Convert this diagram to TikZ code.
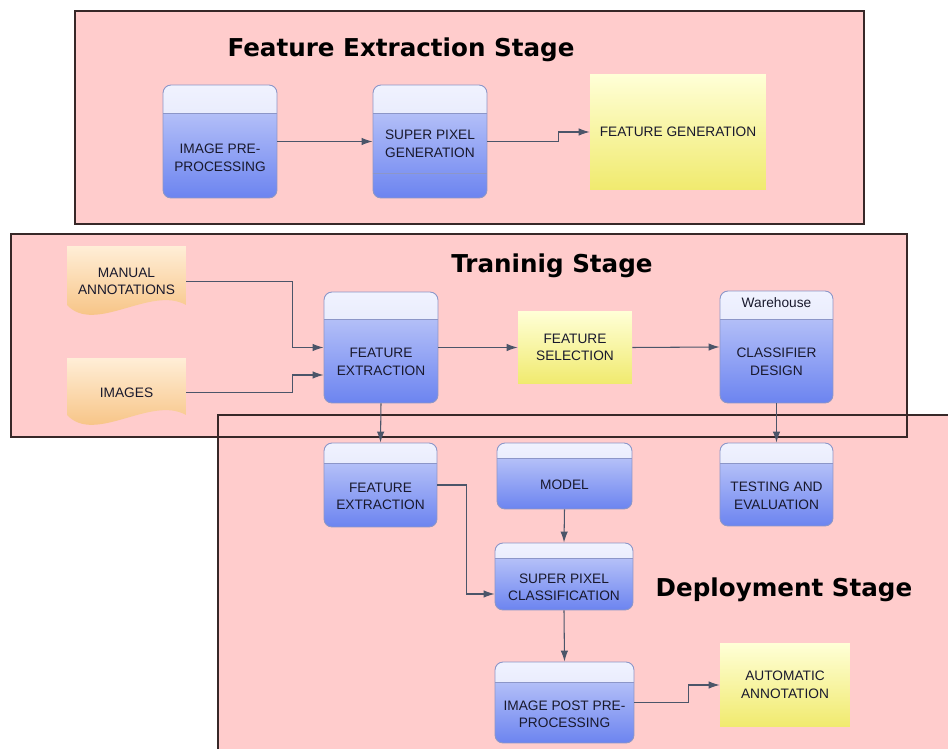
\documentclass[tikz,border=0pt]{standalone}
\usepackage{fontspec}
\setmainfont{Liberation Sans}
\newfontfamily\stagefont{DejaVu Sans}
\usepackage{tikz}
\usetikzlibrary{arrows.meta,calc}

\definecolor{stagepink}{RGB}{255,204,204}
\definecolor{stageline}{RGB}{55,40,40}
\definecolor{headtop}{RGB}{240,242,254}
\definecolor{headbot}{RGB}{214,220,250}
\definecolor{bodytop}{RGB}{202,210,250}
\definecolor{bodybot}{RGB}{108,132,240}
\definecolor{boxline}{RGB}{140,150,200}
\definecolor{yeltop}{RGB}{255,255,215}
\definecolor{yelbot}{RGB}{240,234,110}
\definecolor{doctop}{RGB}{255,238,215}
\definecolor{docbot}{RGB}{245,185,112}
\definecolor{flowcol}{RGB}{75,85,105}
\definecolor{textcol}{RGB}{25,25,45}

\tikzset{
  boxtext/.style={font=\fontsize{7.8}{10}\selectfont, text=textcol, align=center},
  procbox/.style={draw=boxline, line width=0.5pt, rounded corners=0.16cm,
    top color=bodytop, bottom color=bodybot, inner sep=0pt},
  header/.style={path picture={
    \shade[sharp corners, top color=headtop, bottom color=headbot]
      (path picture bounding box.north west) rectangle ([yshift=-#1]path picture bounding box.north east);
    \draw[sharp corners, boxline, line width=0.5pt]
      ([yshift=-#1]path picture bounding box.north west) -- ([yshift=-#1]path picture bounding box.north east);}},
  yelbox/.style={boxtext, top color=yeltop, bottom color=yelbot, inner sep=0pt},
  docbox/.style={boxtext, inner sep=0pt, minimum width=2.38cm, path picture={
    \shade[top color=doctop, bottom color=docbot]
      (path picture bounding box.north west) -- (path picture bounding box.north east)
      -- ([yshift=0.24cm]path picture bounding box.south east)
      .. controls ([xshift=-0.7cm,yshift=0.64cm]path picture bounding box.south east)
      and ([xshift=0.56cm,yshift=-0.36cm]path picture bounding box.south west)
      .. ([yshift=0.24cm]path picture bounding box.south west) -- cycle;}},
  flow/.style={draw=flowcol, line width=0.6pt, -{Latex[length=2.2mm,width=1.5mm]}},
  stagetitle/.style={font={\stagefont\bfseries\fontsize{14}{17}\selectfont}, text=black}
}

\begin{document}
\begin{tikzpicture}[x=0.02cm, y=-0.02cm]
\useasboundingbox (0,0) rectangle (948,749);
\fill[white] (0,0) rectangle (948,749);

% stages
\fill[stagepink] (75,11) rectangle (864,224);
\fill[stagepink] (11,234) rectangle (907,437);
\fill[stagepink] (218,415) rectangle (960,760);
\draw[stageline, line width=0.6pt] (75,11) rectangle (864,224);
\draw[stageline, line width=0.6pt] (11,234) rectangle (907,437);
\draw[stageline, line width=0.6pt] (218,415) rectangle (960,760);

\node[stagetitle] (fes-title) at (401,50) {Feature Extraction Stage};
\node[stagetitle] (trs-title) at (552,266) {Traninig Stage};
\node[stagetitle] (des-title) at (784,590) {Deployment Stage};

% feature extraction stage
\node[procbox, header=0.56cm, minimum width=2.28cm, minimum height=2.26cm] (imgpre) at (220,141.5) {};
\node[boxtext] (imgpre-txt) at (220,158) {IMAGE PRE-\\PROCESSING};
\node[procbox, header=0.56cm, minimum width=2.28cm, minimum height=2.26cm] (spgen) at (430,141.5) {};
\draw[boxline, line width=0.5pt] ([yshift=0.5cm]spgen.south west) -- ([yshift=0.5cm]spgen.south east);
\node[boxtext] (spgen-txt) at (430,144) {SUPER PIXEL\\GENERATION};
\node[yelbox, minimum width=3.52cm, minimum height=2.32cm] (featgen) at (678,132) {FEATURE GENERATION};

\draw[flow] (imgpre.east) -- (spgen.west);
\draw[flow] (spgen.east) -- ++(71,0) |- (featgen.west);

% training stage
\node[docbox, minimum height=1.42cm] (manual) at (126.5,281.5) {MANUAL\\ANNOTATIONS};
\node[docbox, minimum height=1.38cm] (images) at (126.5,392.5) {IMAGES};
\node[procbox, header=0.54cm, minimum width=2.28cm, minimum height=2.22cm] (fe1) at (381,347.5) {};
\node[boxtext] (fe1-txt) at (381,362) {FEATURE\\EXTRACTION};
\node[yelbox, minimum width=2.28cm, minimum height=1.46cm] (featsel) at (575,347.5) {FEATURE\\SELECTION};
\node[procbox, header=0.56cm, minimum width=2.26cm, minimum height=2.24cm] (classif) at (776.5,347) {};
\node[boxtext] (classif-head) at (776.5,303) {Warehouse};
\node[boxtext] (classif-txt) at (776.5,362) {CLASSIFIER\\DESIGN};

\draw[flow] (manual.east) -- ++(106,0) |- (fe1.west);
\draw[flow] (images.east) -- ++(106,0) |- ([yshift=-0.55cm]fe1.west);
\draw[flow] (fe1.east) -- (featsel.west);
\draw[flow] (featsel.east) -- (classif.west);

% deployment stage
\node[procbox, header=0.4cm, minimum width=2.26cm, minimum height=1.68cm] (fe2) at (380.5,485) {};
\node[boxtext] (fe2-txt) at (380.5,496.5) {FEATURE\\EXTRACTION};
\node[procbox, header=0.3cm, minimum width=2.7cm, minimum height=1.32cm] (model) at (564.5,476) {};
\node[boxtext] (model-txt) at (564.5,485) {MODEL};
\node[procbox, header=0.4cm, minimum width=2.26cm, minimum height=1.66cm] (testing) at (776.5,484.5) {};
\node[boxtext] (testing-txt) at (776.5,496) {TESTING AND\\EVALUATION};
\node[procbox, header=0.3cm, minimum width=2.76cm, minimum height=1.34cm] (spc) at (564,576.5) {};
\node[boxtext] (spc-txt) at (564,587.5) {SUPER PIXEL\\CLASSIFICATION};
\node[procbox, header=0.4cm, minimum width=2.78cm, minimum height=1.62cm] (imgpost) at (564.5,702.5) {};
\node[boxtext] (imgpost-txt) at (564.5,714.5) {IMAGE POST PRE-\\PROCESSING};
\node[yelbox, minimum width=2.6cm, minimum height=1.68cm] (autoann) at (785,685) {AUTOMATIC\\ANNOTATION};

\draw[flow] (fe1.south) -- (fe2.north);
\draw[flow] (classif.south) -- (testing.north);
\draw[flow] (fe2.east) -- ++(29,0) |- ([yshift=-0.35cm]spc.west);
\draw[flow] (model.south) -- (spc.north);
\draw[flow] (spc.south) -- (imgpost.north);
\draw[flow] (imgpost.east) -- ++(54,0) |- (autoann.west);
\end{tikzpicture}
\end{document}
